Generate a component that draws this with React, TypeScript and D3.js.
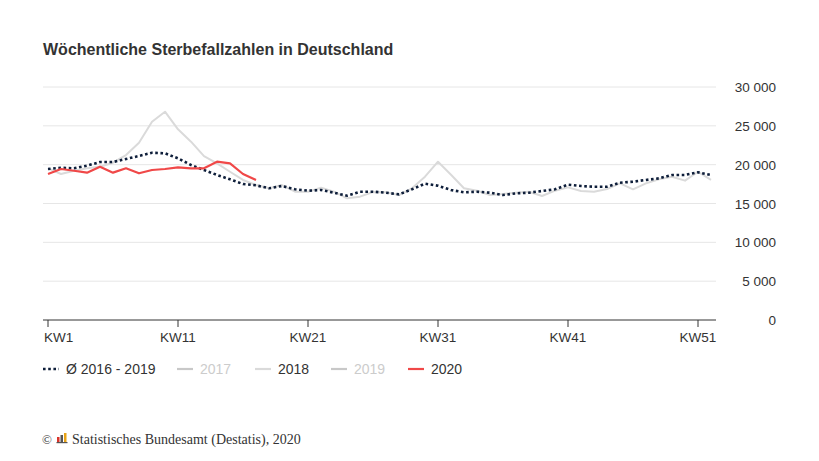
import * as d3 from "d3";

const weeks = [
  1, 2, 3, 4, 5, 6, 7, 8, 9, 10, 11, 12, 13, 14, 15, 16, 17, 18, 19, 20, 21, 22, 23, 24, 25, 26,
  27, 28, 29, 30, 31, 32, 33, 34, 35, 36, 37, 38, 39, 40, 41, 42, 43, 44, 45, 46, 47, 48, 49, 50, 51, 52,
];

// Durchschnitt 2016 - 2019
const avg2016to2019 = [
  19440, 19610, 19530, 19870, 20340, 20340, 20730, 21120, 21540, 21460, 20820, 19960, 19310,
  18670, 18110, 17510, 17340, 16960, 17250, 16830, 16650, 16740, 16390, 16000, 16520, 16520,
  16390, 16180, 16830, 17550, 17290, 16740, 16440, 16520, 16390, 16090, 16310, 16390, 16610,
  16830, 17420, 17250, 17160, 17160, 17680, 17810, 18030, 18240, 18670, 18670, 19020, 18670,
];

const deaths2018 = [
  19530, 18800, 19220, 19530, 19740, 20250, 21240, 22830, 25530, 26820, 24550, 22960, 21110,
  20170, 19090, 18030, 17380, 16960, 17380, 16520, 16520, 17040, 16520, 15670, 15880, 16480,
  16440, 16090, 16960, 18450, 20380, 18700, 16960, 16650, 16090, 16220, 16390, 16520, 15970,
  16650, 17080, 16610, 16520, 16870, 17600, 16830, 17600, 18110, 18450, 17940, 19090, 18030,
];

const deaths2020 = [
  18800, 19440, 19220, 18970, 19740, 18970, 19530, 18890, 19310, 19440, 19660, 19530, 19530,
  20380, 20170, 18800, 18030,
];

const xTickWeeks = [1, 11, 21, 31, 41, 51];
const yTicks = [0, 5000, 10000, 15000, 20000, 25000, 30000];

const legendItems = ["Ø 2016 - 2019", "2017", "2018", "2019", "2020"];
const hiddenSeries = ["2017", "2019"];

const W = 819;
const H = 461;
const font = "'Liberation Sans', Arial, sans-serif";

const navy = "#0e1e3a";
const red = "#f04848";
const light = "#dadada";

const App = () => {
  const x = d3.scaleLinear().domain([1, 52]).range([48, 711]);
  const y = d3.scaleLinear().domain([0, 30000]).range([320, 87]);
  const plotLeft = 43;
  const plotRight = 716;

  const fmt = d3.formatLocale({
    decimal: ",",
    thousands: " ",
    grouping: [3],
    currency: ["", " €"],
  }).format(",");

  const line = d3
    .line<number>()
    .x((_d, i) => x(weeks[i]))
    .y((d) => y(d));

  // Legende: Symbol- und Textpositionen
  const legendX = [43, 177, 255, 331, 408];
  const legendY = 369;

  return (
    <svg
      width={W}
      height={H}
      style={{ position: "absolute", left: 0, top: 0, background: "#fff" }}
      fontFamily={font}
    >
      <rect width={W} height={H} fill="#fff" />
      <text x={43} y={55} fontSize={16} fontWeight="bold" fill="#333">
        Wöchentliche Sterbefallzahlen in Deutschland
      </text>

      {/* Gitterlinien + Y-Achse */}
      {yTicks.map((t) => (
        <g key={t}>
          {t > 0 && (
            <line x1={plotLeft} x2={plotRight} y1={y(t)} y2={y(t)} stroke="#e6e6e6" strokeWidth={1} />
          )}
          <text x={776} y={y(t) + 5} textAnchor="end" fontSize={13.5} fill="#333">
            {fmt(t)}
          </text>
        </g>
      ))}

      {/* X-Achse */}
      <line x1={plotLeft} x2={plotRight} y1={y(0)} y2={y(0)} stroke="#333" strokeWidth={1} />
      {xTickWeeks.map((w, i) => (
        <g key={w}>
          <line x1={x(w)} x2={x(w)} y1={y(0)} y2={y(0) + 7} stroke="#333" strokeWidth={1} />
          <text
            x={i === 0 ? 44 : x(w)}
            y={342}
            textAnchor={i === 0 ? "start" : "middle"}
            fontSize={13.5}
            fill="#333"
          >
            {"KW" + w}
          </text>
        </g>
      ))}

      {/* Linien */}
      <path d={line(deaths2018) ?? ""} fill="none" stroke={light} strokeWidth={2} strokeLinejoin="round" />
      <path
        d={line(avg2016to2019) ?? ""}
        fill="none"
        stroke={navy}
        strokeWidth={2.6}
        strokeDasharray="2.6,2.6"
      />
      <path d={line(deaths2020) ?? ""} fill="none" stroke={red} strokeWidth={2.2} strokeLinejoin="round" />

      {/* Legende */}
      {legendItems.map((name, i) => {
        const hidden = hiddenSeries.includes(name);
        const lx = legendX[i];
        let stroke = hidden ? "#c8c8c8" : light;
        if (i === 0) stroke = navy;
        if (name === "2020") stroke = red;
        return (
          <g key={name}>
            <line
              x1={lx}
              x2={lx + 16}
              y1={legendY}
              y2={legendY}
              stroke={stroke}
              strokeWidth={i === 0 ? 2.6 : 2.2}
              strokeDasharray={i === 0 ? "2.6,2.6" : undefined}
            />
            <text x={lx + 23} y={legendY + 5} fontSize={14} fill={hidden ? "#cccccc" : "#333"}>
              {name}
            </text>
          </g>
        );
      })}

      {/* Quelle */}
      <g fontFamily="'Liberation Serif', 'Times New Roman', serif" fill="#333">
        <text x={42} y={444} fontSize={13}>
          ©
        </text>
        <rect x={57} y={437} width={2.5} height={5} fill="#d9342b" />
        <rect x={60.5} y={435} width={2.5} height={7} fill="#555" />
        <rect x={64} y={433} width={2.5} height={9} fill="#e8a317" />
        <rect x={56.5} y={442} width={11} height={1.2} fill="#555" />
        <text x={72} y={444} fontSize={14}>
          Statistisches Bundesamt (Destatis), 2020
        </text>
      </g>
    </svg>
  );
};

export default App;
